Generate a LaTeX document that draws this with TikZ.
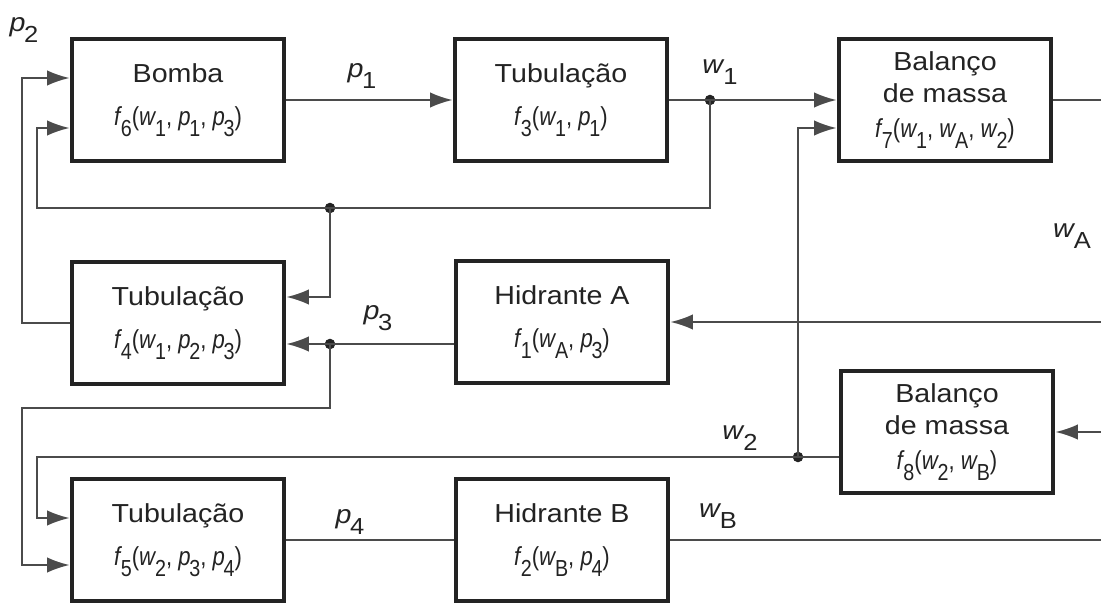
\documentclass[tikz,border=0pt]{standalone}
\usepackage{fontspec}
\setmainfont{Liberation Sans}[FakeStretch=1.1]
\newfontfamily\formfont{Liberation Sans}[FakeStretch=0.85]
\usepackage{tikz}
\usetikzlibrary{arrows.meta, positioning}
\definecolor{InkGray}{RGB}{35, 35, 35}
\definecolor{PipeGray}{RGB}{75, 75, 75}
\newcommand{\varsub}[2]{\textit{#1}\kern-0.05em\raisebox{-0.8ex}{\fontsize{16.5}{18}\selectfont #2}}
\newcommand{\fml}[1]{{\formfont\fontsize{18.5}{22}\selectfont #1}}

\begin{document}
\begin{tikzpicture}[x=0.025cm, y=-0.025cm,
                    box/.style={rectangle, draw=InkGray, line width=3.4pt, fill=white, text=InkGray, align=center, minimum width=5.3cm, minimum height=3.05cm, font=\fontsize{18.5}{23}\selectfont},
                    link/.style={draw=PipeGray, line width=1.4pt},
                    arr/.style={link, -{Latex[length=16pt, width=11pt]}},
                    lbl/.style={text=InkGray, font=\fontsize{18.5}{22}\selectfont},
                    junc/.style={circle, fill=InkGray, inner sep=0pt, minimum size=7.5pt}
                ]
                    \useasboundingbox (0,0) rectangle (1101,605);

                    % blocos
                    \node[box] (bomba) at (178,100) {Bomba\\[8pt]\fml{\varsub{f}{6}(\varsub{w}{1}, \varsub{p}{1}, \varsub{p}{3})}};
                    \node[box] (tubA) at (561,100) {Tubulação\\[8pt]\fml{\varsub{f}{3}(\varsub{w}{1}, \varsub{p}{1})}};
                    \node[box] (balA) at (945,100) {Balanço\\de massa\\[2pt]\fml{\varsub{f}{7}(\varsub{w}{1}, \varsub{w}{A}, \varsub{w}{2})}};
                    \node[box] (tubB) at (178,323) {Tubulação\\[8pt]\fml{\varsub{f}{4}(\varsub{w}{1}, \varsub{p}{2}, \varsub{p}{3})}};
                    \node[box] (hidA) at (562,322) {Hidrante A\\[8pt]\fml{\varsub{f}{1}(\varsub{w}{A}, \varsub{p}{3})}};
                    \node[box] (balB) at (947,432) {Balanço\\de massa\\[2pt]\fml{\varsub{f}{8}(\varsub{w}{2}, \varsub{w}{B})}};
                    \node[box] (tubC) at (178,540) {Tubulação\\[8pt]\fml{\varsub{f}{5}(\varsub{w}{2}, \varsub{p}{3}, \varsub{p}{4})}};
                    \node[box] (hidB) at (562,540) {Hidrante B\\[8pt]\fml{\varsub{f}{2}(\varsub{w}{B}, \varsub{p}{4})}};

                    % pontos de derivacao e extremos livres
                    \node[junc] (j1) at (710,100) {};
                    \node[junc] (j2) at (330,208) {};
                    \node[junc] (j3) at (330,344) {};
                    \node[junc] (j4) at (798,457) {};
                    \coordinate (outA) at (1101,100);
                    \coordinate (inWA) at (1101,322);
                    \coordinate (inWB) at (1101,432);
                    \coordinate (outB) at (1101,540);

                    % rotulos
                    \node[lbl] (lp2) at (24,30) {\varsub{p}{2}};
                    \node[lbl] (lp1) at (362,76) {\varsub{p}{1}};
                    \node[lbl] (lw1) at (720,72) {\varsub{w}{1}};
                    \node[lbl] (lwA) at (1072,236) {\varsub{w}{A}};
                    \node[lbl] (lp3) at (378,318) {\varsub{p}{3}};
                    \node[lbl] (lw2) at (740,438) {\varsub{w}{2}};
                    \node[lbl] (lp4) at (350,522) {\varsub{p}{4}};
                    \node[lbl] (lwB) at (718,516) {\varsub{w}{B}};

                    % ligacoes
                    \draw[arr] (bomba) -- (tubA);
                    \draw[arr] (tubA) -- (balA);
                    \draw[link] (balA) -- (outA);
                    \draw[arr] (j1.center) |- (37,208) |- (bomba.west |- 0,128);
                    \draw[arr] (j2.center) |- (tubB.east |- 0,297);
                    \draw[arr] (tubB.west) -| (22,78) -- (bomba.west |- 0,78);
                    \draw[arr] (inWA) -- (hidA.east);
                    \draw[arr] (hidA.west |- j3) -- (tubB.east |- j3);
                    \draw[arr] (j3.center) |- (22,408) |- (tubC.west |- 0,565);
                    \draw[arr] (balB.west |- j4) -| (37,518) -- (tubC.west |- 0,518);
                    \draw[arr] (j4.center) |- (balA.west |- 0,128);
                    \draw[arr] (inWB) -- (balB.east);
                    \draw[link] (tubC) -- (hidB);
                    \draw[link] (hidB) -- (outB);
                \end{tikzpicture}
\end{document}
